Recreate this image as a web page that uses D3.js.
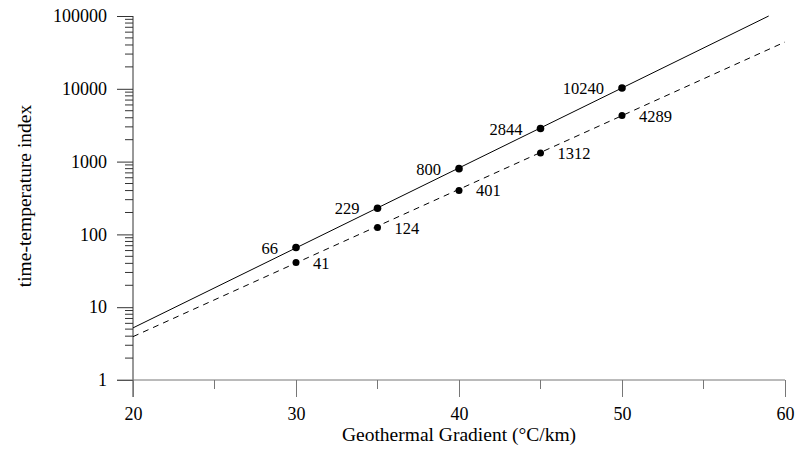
<!DOCTYPE html>
<html>
<head>
<meta charset="utf-8">
<script src="https://cdn.jsdelivr.net/npm/d3@7"></script>
<style>
  body { margin: 0; background: #fff; }
  text { font-family: "Liberation Serif", "Times New Roman", serif; fill: #000; }
</style>
</head>
<body>
<svg id="chart" width="795" height="452"></svg>
<script>
/* DATA */
const gradients = [30, 35, 40, 45, 50];
const solidValues = [66, 229, 800, 2844, 10240];
const dashedValues = [41, 124, 401, 1312, 4289];
// fitted lines, end points
const solidFit = [[20, 5.2], [59, 100000]];
const dashedFit = [[20, 3.94], [60, 43950]];
const xTicks = [20, 30, 40, 50, 60];
const xMinorTicks = [25, 35, 45, 55];
const yTicks = [1, 10, 100, 1000, 10000, 100000];

const svg = d3.select("#chart");

const x = d3.scaleLinear().domain([20, 60]).range([133, 785]);
const y = d3.scaleLog().domain([1, 100000]).range([380, 16]);

/* AXES */
const yMinor = [];
yTicks.slice(0, -1).forEach(t => {
  for (let k = 2; k <= 9; k++) yMinor.push(t * k);
});

const yAxis = svg.append("g").attr("transform", "translate(133,0)");
yAxis.call(d3.axisLeft(y).tickValues(yTicks).tickFormat(d3.format("d")).tickSize(16).tickPadding(10));
yAxis.selectAll(".tick text").style("font-size", "18px");
yAxis.select(".domain").attr("d", "M0,16V397").attr("stroke", "#333");
yAxis.selectAll(".tick line").attr("stroke", "#333");
yAxis.selectAll("line.minor")
  .data(yMinor)
  .enter()
  .append("line")
  .attr("class", "minor")
  .attr("x1", -8).attr("x2", 0)
  .attr("y1", d => y(d)).attr("y2", d => y(d))
  .attr("stroke", "#333");

const xAxis = svg.append("g").attr("transform", "translate(0,380)");
xAxis.call(d3.axisBottom(x).tickValues(xTicks).tickSize(17).tickPadding(10));
xAxis.selectAll(".tick text").style("font-size", "18px");
xAxis.select(".domain").attr("d", "M117,0H785").attr("stroke", "#777");
xAxis.selectAll(".tick line").attr("stroke", "#777");
xAxis.selectAll("line.minor")
  .data(xMinorTicks)
  .enter()
  .append("line")
  .attr("class", "minor")
  .attr("x1", d => x(d)).attr("x2", d => x(d))
  .attr("y1", 0).attr("y2", 9)
  .attr("stroke", "#777");

/* AXIS LABELS */
svg.append("text")
  .attr("x", 459).attr("y", 441)
  .attr("text-anchor", "middle")
  .style("font-size", "19.5px")
  .text("Geothermal Gradient (°C/km)");

svg.append("text")
  .attr("transform", "translate(31,196) rotate(-90)")
  .attr("text-anchor", "middle")
  .style("font-size", "19.5px")
  .text("time-temperature index");

/* LINES */
const line = d3.line().x(d => x(d[0])).y(d => y(d[1]));

svg.append("path")
  .attr("d", line(solidFit))
  .attr("fill", "none")
  .attr("stroke", "#000")
  .attr("stroke-width", 1);

svg.append("path")
  .attr("d", line(dashedFit))
  .attr("fill", "none")
  .attr("stroke", "#000")
  .attr("stroke-width", 1)
  .attr("stroke-dasharray", "6,5");

/* POINTS + LABELS */
const solidPts = gradients.map((g, i) => ({ g, v: solidValues[i] }));
const dashedPts = gradients.map((g, i) => ({ g, v: dashedValues[i] }));

svg.selectAll("circle.solid")
  .data(solidPts)
  .enter()
  .append("circle")
  .attr("class", "solid")
  .attr("cx", d => x(d.g))
  .attr("cy", d => y(d.v))
  .attr("r", 3.8);

svg.selectAll("circle.dashed")
  .data(dashedPts)
  .enter()
  .append("circle")
  .attr("class", "dashed")
  .attr("cx", d => x(d.g))
  .attr("cy", d => y(d.v))
  .attr("r", 3.5);

svg.selectAll("text.solid")
  .data(solidPts)
  .enter()
  .append("text")
  .attr("class", "solid")
  .attr("x", d => x(d.g) - 18)
  .attr("y", d => y(d.v) + 6)
  .attr("text-anchor", "end")
  .style("font-size", "16.5px")
  .text(d => d.v);

svg.selectAll("text.dashed")
  .data(dashedPts)
  .enter()
  .append("text")
  .attr("class", "dashed")
  .attr("x", d => x(d.g) + 17)
  .attr("y", d => y(d.v) + 6)
  .style("font-size", "16.5px")
  .text(d => d.v);
</script>
</body>
</html>
